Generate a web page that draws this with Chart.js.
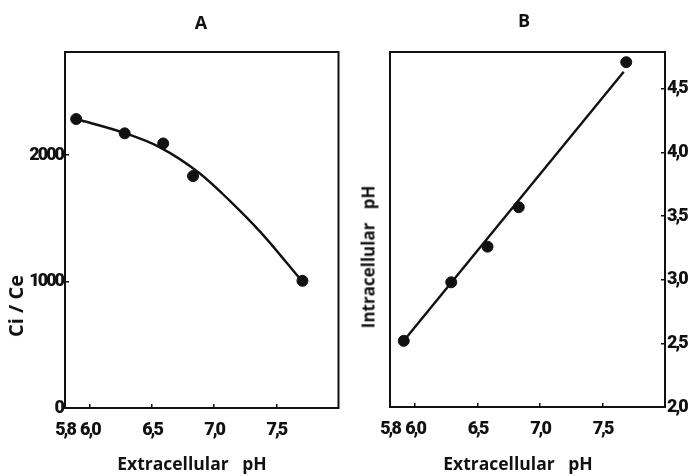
<!DOCTYPE html>
<html>
<head>
<meta charset="utf-8">
<script src="https://cdn.jsdelivr.net/npm/chart.js@4.4.1/dist/chart.umd.min.js"></script>
<style>
  body { margin: 0; background: #fff; }
  #wrap { position: relative; width: 691px; height: 476px; overflow: hidden; }
  canvas { position: absolute; top: 0; }
  .lbl {
    position: absolute;
    font-family: "Open Sans", "DejaVu Sans", sans-serif;
    font-weight: 700;
    color: #111;
    white-space: pre;
    line-height: 1;
    transform: translate(-50%, -50%);
  }
  .rot { transform: translate(-50%, -50%) rotate(-90deg); }
</style>
</head>
<body>
<div id="wrap">
  <canvas id="chartA" width="345" height="476" style="left:0"></canvas>
  <canvas id="chartB" width="346" height="476" style="left:345px"></canvas>
  <div class="lbl" style="left:201px; top:22px; font-size:18px">A</div>
  <div class="lbl" style="left:524px; top:20px; font-size:18px">B</div>
  <div class="lbl" style="left:192px; top:464px; font-size:17.5px">Extracellular   pH</div>
  <div class="lbl" style="left:518px; top:464px; font-size:17.5px">Extracellular   pH</div>
  <div class="lbl rot" style="left:16px; top:306px; font-size:20px">Ci / Ce</div>
  <div class="lbl rot" style="left:368px; top:257px; font-size:17px">Intracellular   pH</div>
</div>
<script>
// panel A: Ci/Ce against extracellular pH
const phA = [5.89, 6.28, 6.59, 6.83, 7.71];
const ratioA = [2285, 2172, 2092, 1834, 1006];
const fitPhA = [5.89, 6.28, 6.56, 6.88, 7.12, 7.38, 7.70];
const fitRatioA = [2285, 2174, 2063, 1858, 1644, 1383, 1010];

// panel B: intracellular against extracellular pH
const phB = [5.91, 6.29, 6.58, 6.83, 7.69];
const intraB = [2.52, 2.98, 3.26, 3.57, 4.71];
const fitPhB = [5.91, 7.67];
const fitIntraB = [2.52, 4.635];

const xTicks = [5.8, 6.0, 6.5, 7.0, 7.5];
const yTicksA = [0, 1000, 2000];
const yTicksB = [2.0, 2.5, 3.0, 3.5, 4.0, 4.5];

const INK = "#111";
const tickFont = { family: "Roboto, 'Liberation Sans', sans-serif", weight: 900, size: 18 };
const comma = (v) => v.toFixed(1).replace(".", ",");

// box round the plot area, and tighter tick lettering
const frame = {
  id: "frame",
  beforeDraw(chart) {
    chart.ctx.letterSpacing = "-2px";
  },
  afterDraw(chart) {
    const { ctx, chartArea: a } = chart;
    ctx.save();
    ctx.strokeStyle = INK;
    ctx.lineWidth = 2;
    ctx.strokeRect(a.left, a.top, a.right - a.left, a.bottom - a.top);
    ctx.restore();
  },
};

const toXY = (xs, ys) => xs.map((x, i) => ({ x, y: ys[i] }));

function renderPanel({ canvasId, xs, ys, fitXs, fitYs, smooth, yMin, yMax, yTicks, yFormat, yPosition, yWidth, xHeight, padding }) {
  return new Chart(document.getElementById(canvasId), {
    type: "scatter",
    data: {
      datasets: [
        {
          data: toXY(xs, ys),
          showLine: false,
          pointRadius: 5.5,
          pointBackgroundColor: INK,
          pointBorderColor: INK,
        },
        {
          data: toXY(fitXs, fitYs),
          showLine: true,
          cubicInterpolationMode: smooth ? "monotone" : "default",
          tension: 0,
          borderColor: INK,
          borderWidth: 2.4,
          pointRadius: 0,
        },
      ],
    },
    options: {
      responsive: false,
      animation: false,
      layout: { padding },
      plugins: { legend: { display: false }, tooltip: { enabled: false } },
      scales: {
        x: {
          type: "linear",
          min: 5.8,
          max: 8.0,
          afterBuildTicks: (axis) => { axis.ticks = xTicks.map((value) => ({ value })); },
          afterFit: (axis) => { axis.height = xHeight; },
          grid: { drawOnChartArea: false, tickLength: -4, color: INK, lineWidth: 1.5 },
          border: { display: false },
          ticks: { font: tickFont, color: INK, padding: 16, callback: comma, maxRotation: 0 },
        },
        y: {
          type: "linear",
          position: yPosition,
          min: yMin,
          max: yMax,
          afterBuildTicks: (axis) => { axis.ticks = yTicks.map((value) => ({ value })); },
          afterFit: (axis) => { axis.width = yWidth; },
          grid: { drawOnChartArea: false, tickLength: -4, color: INK, lineWidth: 1.5 },
          border: { display: false },
          ticks: { font: tickFont, color: INK, padding: 6, callback: yFormat },
        },
      },
    },
    plugins: [frame],
  });
}

renderPanel({
  canvasId: "chartA",
  xs: phA, ys: ratioA, fitXs: fitPhA, fitYs: fitRatioA, smooth: true,
  yMin: 0, yMax: 2815, yTicks: yTicksA, yFormat: (v) => String(v),
  yPosition: "left", yWidth: 65, xHeight: 68,
  padding: { top: 52, right: 5, left: 0, bottom: 0 },
});

renderPanel({
  canvasId: "chartB",
  xs: phB, ys: intraB, fitXs: fitPhB, fitYs: fitIntraB, smooth: false,
  yMin: 2.0, yMax: 4.79, yTicks: yTicksB, yFormat: comma,
  yPosition: "right", yWidth: 26, xHeight: 69,
  padding: { top: 52, right: 0, left: 45, bottom: 0 },
});
</script>
</body>
</html>
